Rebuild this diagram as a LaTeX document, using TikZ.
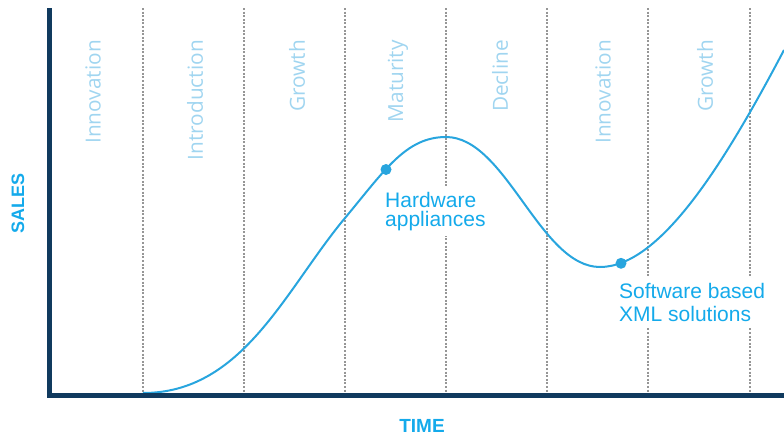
\documentclass[tikz,border=0pt]{standalone}
\usepackage{fontspec}
\setmainfont{Liberation Sans}
\newfontfamily\phasefont{Open Sans}

\definecolor{axisblue}{RGB}{16,58,94}
\definecolor{curveblue}{RGB}{40,165,222}
\definecolor{textblue}{RGB}{20,170,235}
\definecolor{phaseblue}{RGB}{160,213,240}
\definecolor{dashgray}{RGB}{150,150,150}

\tikzset{
  phase/.style={rotate=90, anchor=east, inner sep=0pt, text=phaseblue,
    font=\phasefont\fontsize{20.8}{24}\selectfont},
  callout/.style={anchor=north west, inner xsep=0pt, inner ysep=5pt, fill=white,
    align=left, text=textblue, font=\fontsize{21}{19.5}\selectfont},
  axislabel/.style={inner sep=0pt, text=textblue, font=\bfseries\fontsize{18}{20}\selectfont},
  divider/.style={draw=dashgray, line width=1.8pt, dash pattern=on 2pt off 1.6pt},
  salescurve/.style={draw=curveblue, line width=2pt},
  marker/.style={circle, fill=curveblue, inner sep=0pt, minimum size=11pt}
}

\begin{document}
\begin{tikzpicture}[x=1pt, y=-1pt]

\useasboundingbox (0,0) rectangle (784,439);

\foreach \x in {143,244,345,446,547,648,750}{\draw[divider] (\x,8) -- (\x,393);}

\foreach \x/\t in {93/Innovation,195/Introduction,297/Growth,398/Maturity,500/Decline,603/Innovation,705/Growth}{
  \node[phase] (phase\x) at (\x,40) {\t};}

\node[callout] (hwlabel) at (385,187) {Hardware\\appliances};
\node[callout] (swlabel) at (619,278) {Software based\\[4pt]XML solutions};

\draw[salescurve] (143,393) .. controls (243,393) and (285,290) .. (345,218)
  .. controls (385,170) and (406,137) .. (446,137)
  .. controls (506,137) and (540,267) .. (600,267)
  .. controls (660,267) and (724,164) .. (784,50);

\draw[axisblue, line width=5pt] (49,8) -- (49,395) -- (784,395);

\node[marker] (hwdot) at (386,169.5) {};
\node[marker] (swdot) at (621,263.3) {};

\node[axislabel, rotate=90] (sales) at (18,203) {SALES};
\node[axislabel, font=\bfseries\fontsize{19}{20}\selectfont] (time) at (422,426) {TIME};

\end{tikzpicture}
\end{document}
